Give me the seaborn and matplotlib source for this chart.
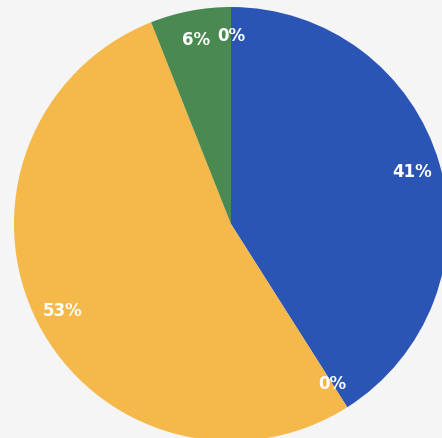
import matplotlib
matplotlib.use("Agg")
import matplotlib.pyplot as plt
import seaborn as sns

categories = ["A", "B", "C", "D", "E"]
values = [41, 0, 53, 6, 0]
colors = ["#2b55b5", "#e8833a", "#f5b84a", "#4a8a50", "#9fb7dd"]

sns.set_theme(style="white")
plt.rcParams['font.family'] = ['DejaVu Sans']

fig = plt.figure(figsize=(4.42, 4.39), dpi=100, facecolor="#f6f5f6")
ax = fig.add_axes([0, 0, 1, 1])
ax.set_facecolor("#f6f5f6")

wedges, texts, autotexts = ax.pie(
    values, colors=colors, startangle=90, counterclock=False,
    autopct=lambda p: f"{p:.0f}%", pctdistance=0.87,
    wedgeprops=dict(linewidth=0),
    textprops=dict(color="white", fontsize=12, fontweight="bold"),
)

ax.set_xlim(-1.0645, 0.9724)
ax.set_ylim(-0.986, 1.0369)
ax.set_aspect("auto")
ax.axis("off")

fig.savefig("out.png", dpi=100, facecolor=fig.get_facecolor())
